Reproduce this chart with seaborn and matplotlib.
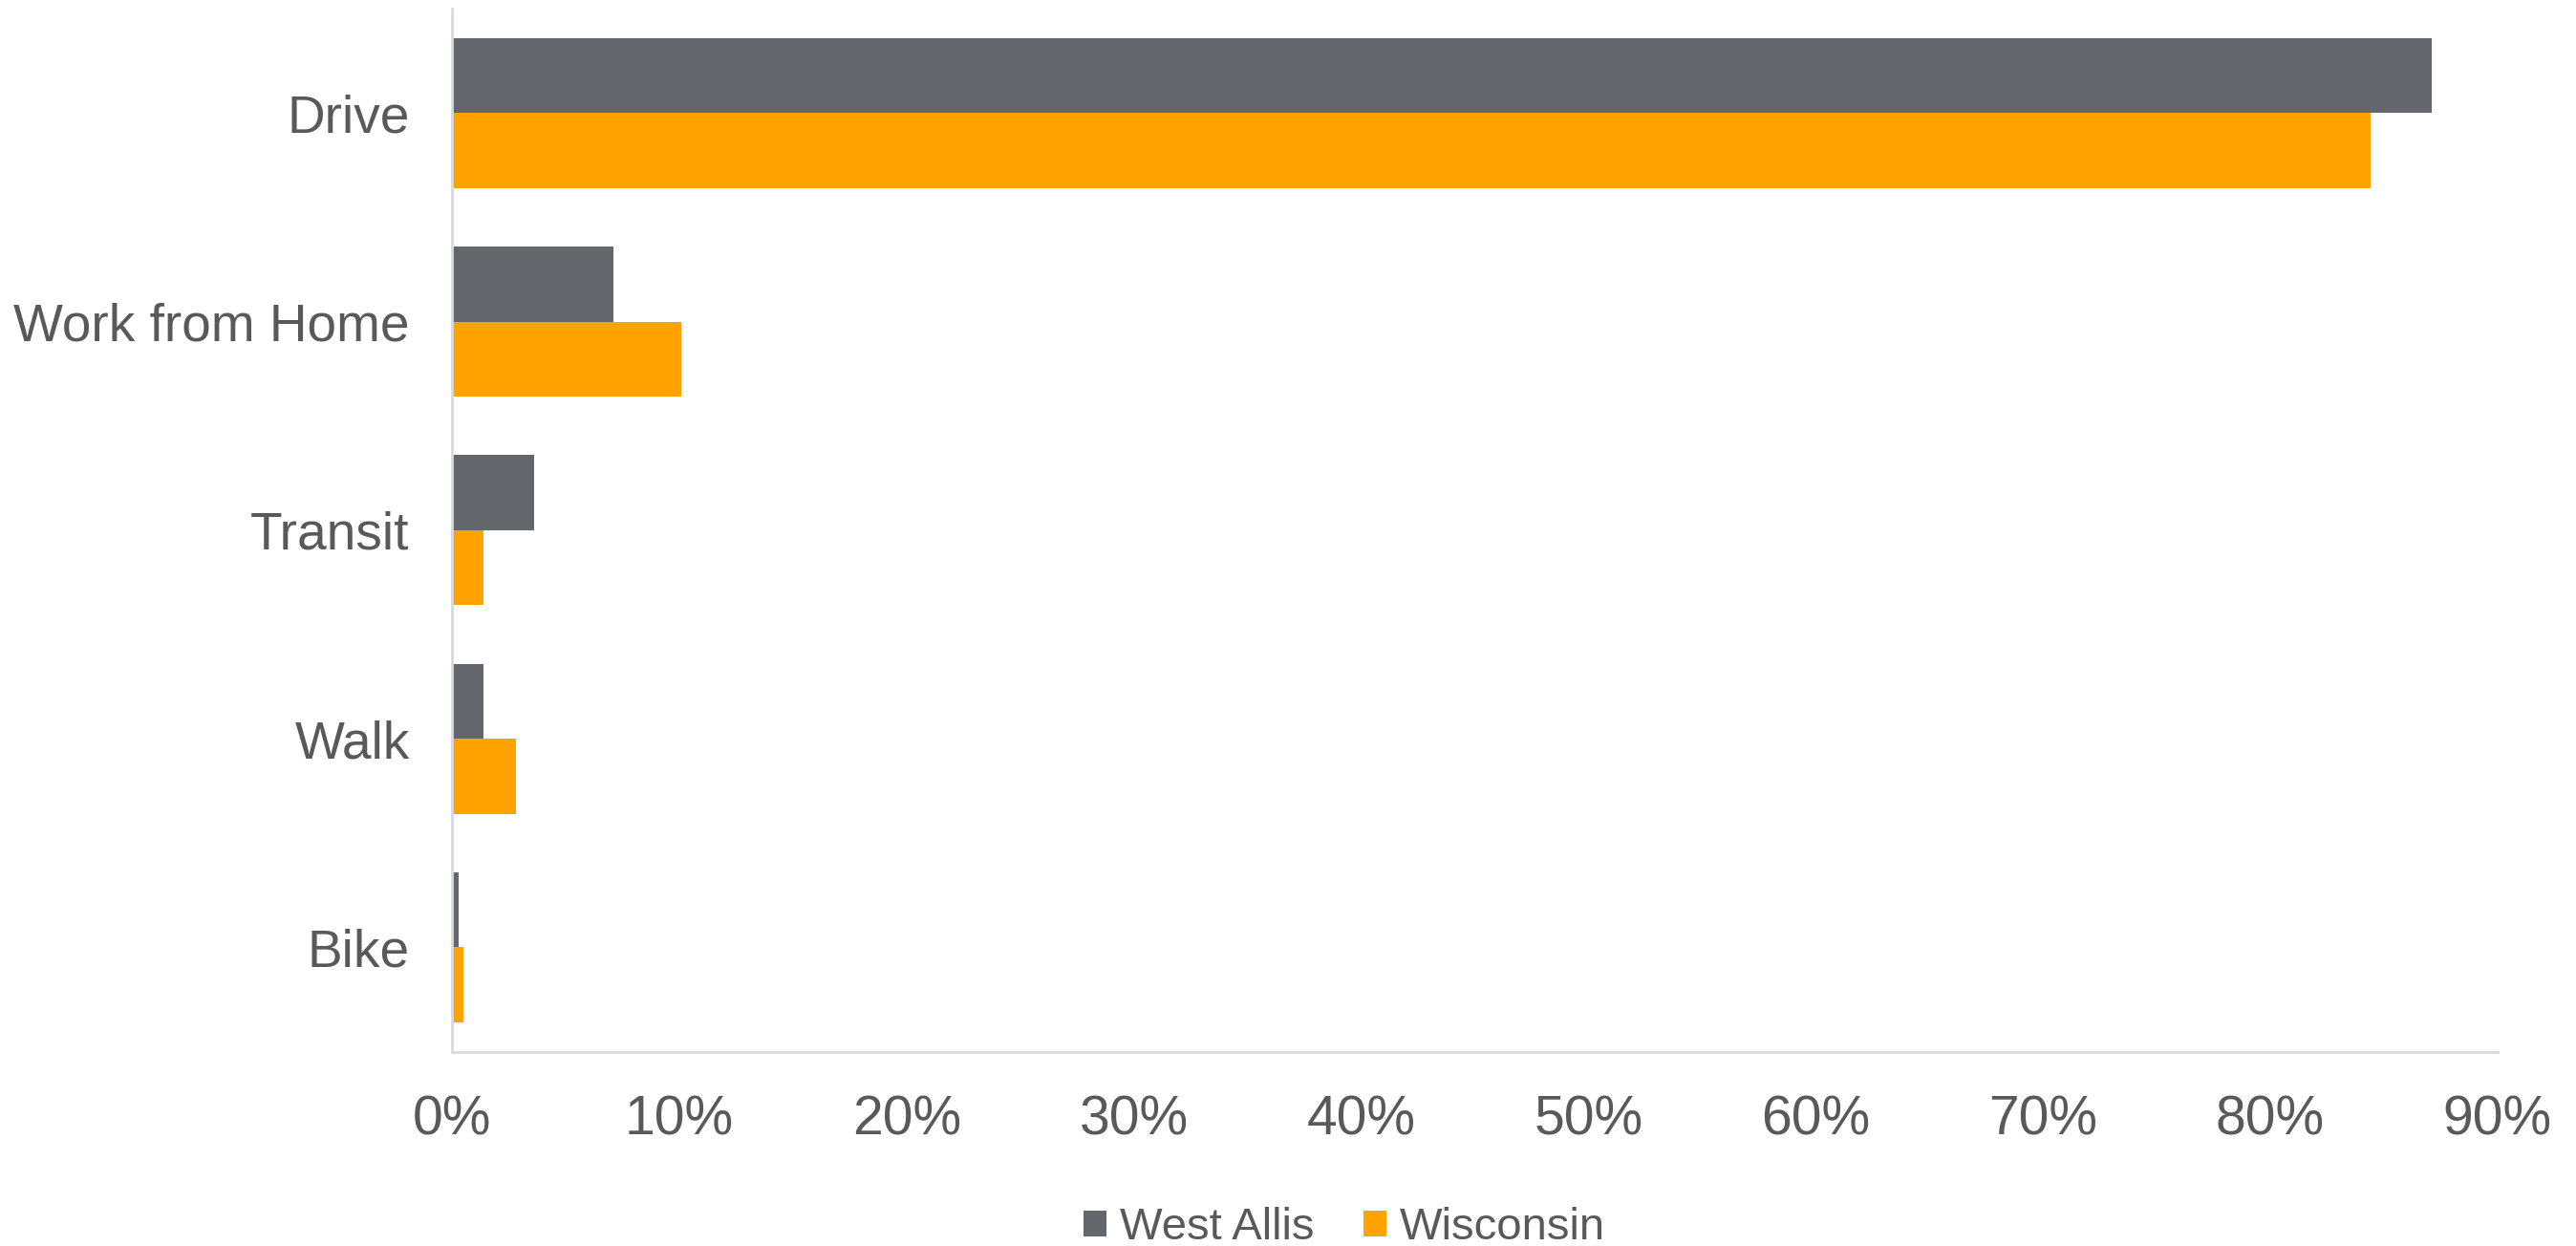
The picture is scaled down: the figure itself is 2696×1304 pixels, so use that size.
import pandas as pd
import matplotlib.pyplot as plt
import seaborn as sns
from matplotlib.ticker import PercentFormatter

# Commute mode shares (percent)
modes = ['Drive', 'Work from Home', 'Transit', 'Walk', 'Bike']
west_allis = [87.1, 7.1, 3.6, 1.4, 0.3]
wisconsin = [84.4, 10.1, 1.4, 2.8, 0.5]
areas = ['West Allis', 'Wisconsin']

df = pd.DataFrame({
    'Mode': modes * 2,
    'Share': west_allis + wisconsin,
    'Area': [areas[0]] * len(modes) + [areas[1]] * len(modes),
})

sns.set_style('white')
plt.rcParams['font.family'] = ['Liberation Sans', 'DejaVu Sans']
text_color = '#595959'
axis_color = '#D9D9D9'

fig = plt.figure(figsize=(13.48, 6.52), dpi=200)
ax = fig.add_axes([0.1755, 0.156, 0.7940, 0.837])

sns.barplot(data=df, y='Mode', x='Share', hue='Area', order=modes, hue_order=areas,
            palette=['#63666A', '#FFA300'], orient='h', width=0.72,
            saturation=1, linewidth=0, ax=ax)

ax.set_xlim(0, 90)
ax.set_xticks(range(0, 91, 10))
ax.xaxis.set_major_formatter(PercentFormatter(decimals=0))
ax.set_xlabel('')
ax.set_ylabel('')

for side in ['top', 'right']:
    ax.spines[side].set_visible(False)
for side in ['left', 'bottom']:
    ax.spines[side].set_color(axis_color)
    ax.spines[side].set_linewidth(1.0)

ax.tick_params(axis='x', direction='in', length=5, width=0.8, color=axis_color,
               labelsize=20.5, labelcolor=text_color, pad=16)
ax.tick_params(axis='y', length=0, labelsize=19.8, labelcolor=text_color, pad=16)

ax.legend(loc='lower center', bbox_to_anchor=(0.522, -0.035), bbox_transform=fig.transFigure,
          ncol=2, frameon=False, fontsize=17, labelcolor=text_color,
          handlelength=0.5, handleheight=0.5, handletextpad=0.3, columnspacing=1.1)

fig.savefig('out.png', dpi=200)
